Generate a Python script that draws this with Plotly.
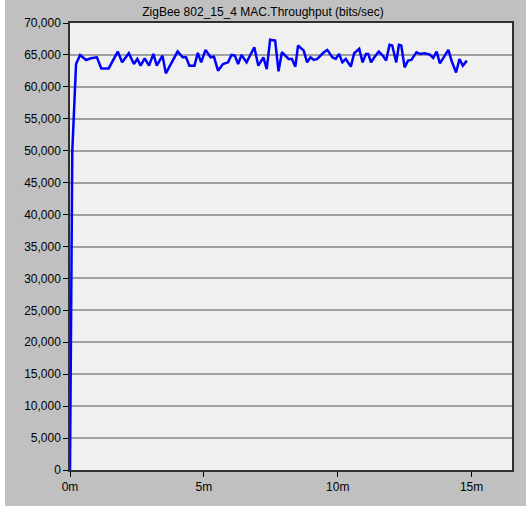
import plotly.graph_objects as go

time_min = [0.0, 0.086, 0.226, 0.377, 0.603, 0.779, 1.005, 1.168, 1.445, 1.784, 1.947,
            2.198, 2.387, 2.513, 2.638, 2.789, 2.952, 3.116, 3.241, 3.455, 3.580, 3.794,
            4.020, 4.209, 4.334, 4.460, 4.648, 4.774, 4.899, 5.063, 5.251, 5.377, 5.528,
            5.716, 5.905, 6.030, 6.156, 6.281, 6.407, 6.595, 6.884, 7.035, 7.224, 7.349,
            7.475, 7.663, 7.789, 7.915, 8.166, 8.291, 8.417, 8.518, 8.731, 8.857, 8.982,
            9.108, 9.234, 9.485, 9.611, 9.799, 9.925, 10.050, 10.176, 10.302, 10.490,
            10.616, 10.804, 10.930, 11.055, 11.143, 11.244, 11.369, 11.533, 11.683, 11.809,
            11.935, 12.035, 12.186, 12.286, 12.374, 12.500, 12.626, 12.751, 12.940, 13.065,
            13.254, 13.442, 13.568, 13.693, 13.819, 13.945, 14.133, 14.259, 14.422, 14.548,
            14.673, 14.824]
throughput = [0, 50000, 63580, 65000, 64210, 64470, 64630, 62890, 62890, 65530, 63840,
              65260, 63580, 64370, 63320, 64470, 63320, 65160, 63320, 64890, 62110, 63840,
              65530, 64630, 64630, 63320, 63320, 65320, 63840, 65790, 64630, 64740, 62530,
              63580, 63840, 65000, 64890, 63580, 65000, 63840, 66210, 63320, 64630, 62790,
              67370, 67260, 62420, 65420, 64370, 64370, 63160, 66470, 65680, 63840, 64630,
              64210, 64370, 65420, 65790, 64630, 64370, 65160, 63840, 64370, 63160,
              65260, 65950, 63840, 65160, 65160, 63840, 64630, 65530, 64890, 64110,
              66580, 66470, 63840, 66580, 66470, 63050, 64110, 64210, 65420, 65160,
              65260, 65050, 64530, 65530, 63680, 64530, 65790, 64000, 62260, 64370,
              63320, 64110]

x_tick_vals = [0, 5, 10, 15]
x_tick_text = ["0m", "5m", "10m", "15m"]
y_tick_vals = list(range(0, 70001, 5000))
y_tick_text = [f"{v:,}" for v in y_tick_vals]

fig = go.Figure()
fig.add_trace(go.Scatter(x=time_min, y=throughput, mode="lines",
                         line=dict(color="#0000ff", width=2.5), hoverinfo="skip"))

fig.update_layout(
    width=526, height=506,
    margin=dict(l=70, r=14, t=23, b=34),
    paper_bgcolor="#c0c0c0",
    plot_bgcolor="#f0f0f0",
    showlegend=False,
    font=dict(family="Liberation Sans, Arial, sans-serif", size=12, color="#000000"),
    title=dict(text="ZigBee 802_15_4 MAC.Throughput (bits/sec)", x=0.5, xanchor="center",
               y=1 - 12 / 506, yanchor="middle",
               font=dict(size=12, color="#000000")),
    xaxis=dict(range=[0, 16.51], tickvals=x_tick_vals, ticktext=x_tick_text,
               showgrid=False, zeroline=False, ticks="outside", ticklen=5,
               tickcolor="#000000", showline=True, linecolor="#303030", linewidth=1.5,
               mirror=True),
    yaxis=dict(range=[0, 70000], tickvals=y_tick_vals, ticktext=y_tick_text,
               showgrid=True, gridcolor="#a0a0a0", gridwidth=1.5, zeroline=False,
               ticks="outside", ticklen=5, tickcolor="#000000", showline=True,
               linecolor="#303030", linewidth=1.5, mirror=True),
    shapes=[dict(type="rect", xref="paper", yref="paper",
                 x0=-70 / 442, x1=-65 / 442, y0=-0.2, y1=1.2,
                 fillcolor="#ffffff", line=dict(width=0), layer="above")],
)

fig.write_html("out.html",
               config={"displayModeBar": False},
               post_script="document.body.style.margin='0';document.body.style.padding='0';")
